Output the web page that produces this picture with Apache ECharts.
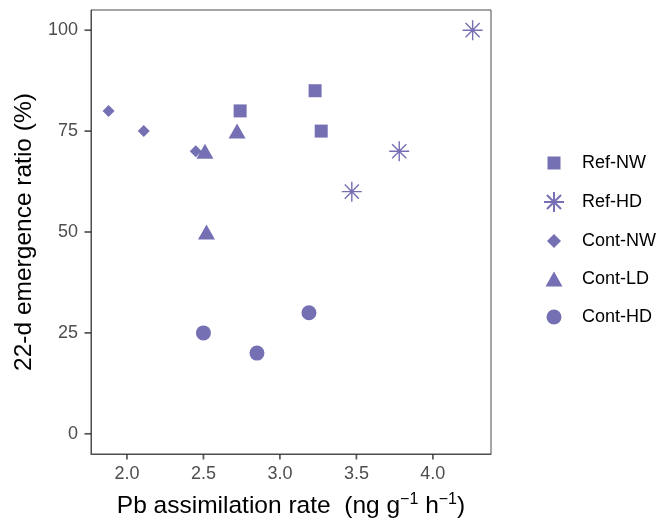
<!DOCTYPE html>
<html>
<head>
<meta charset="utf-8">
<script src="https://cdn.jsdelivr.net/npm/echarts@6/dist/echarts.min.js"></script>
<style>
html,body{margin:0;padding:0;background:#fff;}
#chart{width:664px;height:524px;}
</style>
</head>
<body>
<div id="chart"></div>
<script>
// Data
const seriesNames = ['Ref-NW', 'Ref-HD', 'Cont-NW', 'Cont-LD', 'Cont-HD'];
const refNW  = [[2.74, 80], [3.23, 85], [3.27, 75]];
const refHD  = [[4.26, 100], [3.78, 70], [3.47, 60]];
const contNW = [[1.88, 80], [2.11, 75], [2.45, 70]];
const contLD = [[2.72, 75], [2.51, 70], [2.52, 50]];
const contHD = [[2.50, 25], [2.85, 20], [3.19, 30]];
const xTicks = [2.0, 2.5, 3.0, 3.5, 4.0];
const yTicks = [0, 25, 50, 75, 100];
const xMin = 1.765, xMax = 4.38, yMin = -5, yMax = 105;

const col = '#7570b3';
const asterisk = 'path://M0,-10L0,10M-10,0L10,0M-7.07,-7.07L7.07,7.07M-7.07,7.07L7.07,-7.07';
// legend icons padded to a common 20x20 box so their relative sizes match the plot marks
const pad = 'M-10,-10M10,10';
const legendIcons = {
  'Ref-NW': 'path://' + pad + 'M-6.5,-6.5L6.5,-6.5L6.5,6.5L-6.5,6.5Z',
  'Ref-HD': asterisk,
  'Cont-NW': 'path://' + pad + 'M0,-7L7,0L0,7L-7,0Z',
  'Cont-LD': 'path://' + pad + 'M0,-7.5L8.5,7.5L-8.5,7.5Z',
  'Cont-HD': 'path://' + pad + 'M-7.5,0A7.5,7.5 0 1,1 7.5,0A7.5,7.5 0 1,1 -7.5,0Z'
};

const chart = echarts.init(document.getElementById('chart'), null, {renderer: 'canvas'});

const option = {
  animation: false,
  backgroundColor: '#ffffff',
  grid: {left: 91, right: 173, top: 10, bottom: 70, show: true, borderColor: '#4d4d4d', borderWidth: 1, containLabel: false},
  xAxis: {
    type: 'value', min: xMin, max: xMax,
    splitLine: {show: false},
    axisLine: {show: true, onZero: false, lineStyle: {color: '#4d4d4d', width: 1}},
    axisTick: {show: false},
    axisLabel: {customValues: xTicks, formatter: v => v.toFixed(1), color: '#4d4d4d', fontSize: 18, fontFamily: 'Liberation Sans', margin: 11},
    name: 'Pb assimilation rate  (ng g{sup|\u22121} h{sup|\u22121})',
    nameLocation: 'middle', nameGap: 38,
    nameTextStyle: {color: '#000', fontSize: 24.5, fontFamily: 'Liberation Sans',
      rich: {sup: {fontSize: 16, fontFamily: 'Liberation Sans', color: '#000', padding: [0, 0, 12, 0]}}}
  },
  yAxis: {
    type: 'value', min: yMin, max: yMax,
    splitLine: {show: false},
    axisLine: {show: true, onZero: false, lineStyle: {color: '#4d4d4d', width: 1}},
    axisTick: {show: false},
    axisLabel: {customValues: yTicks, color: '#4d4d4d', fontSize: 18, fontFamily: 'Liberation Sans', margin: 13},
    name: '22-d emergence ratio (%)',
    nameLocation: 'middle', nameGap: 53, nameRotate: 90,
    nameTextStyle: {color: '#000', fontSize: 24.5, fontFamily: 'Liberation Sans'}
  },
  legend: {
    orient: 'vertical', left: 538, top: 148,
    itemWidth: 20, itemHeight: 20, itemGap: 18,
    data: seriesNames.map(n => ({name: n, icon: legendIcons[n]})),
    textStyle: {fontSize: 18, fontFamily: 'Liberation Sans', color: '#000', lineHeight: 20, padding: [0, 0, 0, 13]}
  },
  series: [
    {name: 'Ref-NW', type: 'scatter', data: refNW, symbol: 'rect', symbolSize: 13, itemStyle: {color: col, opacity: 1}},
    {name: 'Ref-HD', type: 'scatter', data: refHD, symbol: asterisk, symbolSize: 20, itemStyle: {color: col, borderColor: col, borderWidth: 1.4, opacity: 1}},
    {name: 'Cont-NW', type: 'scatter', data: contNW, symbol: 'diamond', symbolSize: 12, itemStyle: {color: col, opacity: 1}},
    {name: 'Cont-LD', type: 'scatter', data: contLD, symbol: 'triangle', symbolSize: [17, 15], itemStyle: {color: col, opacity: 1}},
    {name: 'Cont-HD', type: 'scatter', data: contHD, symbol: 'circle', symbolSize: 15, itemStyle: {color: col, opacity: 1}},
    // axis tick marks (outside the panel), placed through the axis scales
    {name: 'xticks', type: 'scatter', silent: true, clip: false, data: xTicks.map(v => [v, yMin]),
      symbol: 'rect', symbolSize: [1.8, 5.5], symbolOffset: [0, 2.75], itemStyle: {color: '#333'}, z: 5},
    {name: 'yticks', type: 'scatter', silent: true, clip: false, data: yTicks.map(v => [xMin, v]),
      symbol: 'rect', symbolSize: [6.5, 1.8], symbolOffset: [-3.25, 0], itemStyle: {color: '#333'}, z: 5}
  ]
};
chart.setOption(option);
</script>
</body>
</html>
